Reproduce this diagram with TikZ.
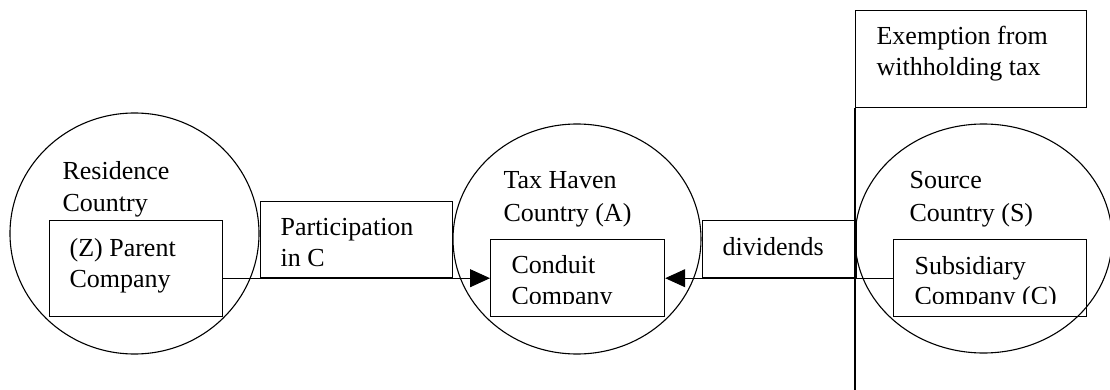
\documentclass[tikz,border=0pt]{standalone}
\usepackage{fontspec}
\setmainfont{Liberation Serif}
\usetikzlibrary{shapes.geometric,arrows.meta}
\begin{document}
\begin{tikzpicture}[x=1pt,y=-1pt,
  line width=1.2pt,
  country/.style={draw,ellipse,inner sep=0pt,line width=1.1pt},
  box/.style={draw,rectangle,inner sep=0pt,anchor=north west},
  lbl/.style={anchor=base west,inner sep=0pt,font=\fontsize{26}{31}\selectfont},
  arr/.style={-{Triangle[length=20pt,width=18pt]},line width=1pt}]
\useasboundingbox (0,0) rectangle (1110,390);
% countries
\node[country,minimum width=249pt,minimum height=241pt] (res) at (134.5,233.5) {};
\node[country,minimum width=248pt,minimum height=230pt] (hav) at (577,239) {};
\node[country,minimum width=257pt,minimum height=229pt] (src) at (983.5,238.5) {};
% boxes
\node[box,minimum width=173pt,minimum height=96pt] (par) at (49,220) {};
\node[box,minimum width=192pt,minimum height=76pt] (part) at (260,201) {};
\node[box,minimum width=174pt,minimum height=77pt] (cond) at (490,239) {};
\node[box,minimum width=154pt,minimum height=57pt] (div) at (702,220) {};
\node[box,minimum width=231pt,minimum height=97pt] (exe) at (855,10) {};
\node[box,minimum width=193pt,minimum height=77pt] (sub) at (893,239) {};
\coordinate (vbot) at (855,390);
\draw (exe.south west) -- (vbot);
% texts
\node[lbl] (t1) at (62,180) {Residence};
\node[lbl] (t2) at (62,211.5) {Country};
\node[lbl] (t3) at (69,256) {(Z) Parent};
\node[lbl] (t4) at (69,287) {Company};
\node[lbl] (t5) at (280,235) {Participation};
\node[lbl] (t6) at (280,266) {in C};
\node[lbl] (t7) at (503,189) {Tax Haven};
\node[lbl] (t8) at (503,221) {Country (A)};
\node[lbl] (t9) at (511,273) {Conduit};
\begin{scope}
\clip (490,239) rectangle (664,303.5);
\node[lbl] (t10) at (511,304) {Company};
\end{scope}
\node[lbl] (t11) at (722,255) {dividends};
\node[lbl] (t12) at (876,45) {Exemption from};
\node[lbl] (t13) at (876,76) {withholding tax};
\node[lbl] (t14) at (909,189) {Source};
\node[lbl] (t15) at (909,221) {Country (S)};
\node[lbl] (t16) at (914,274) {Subsidiary};
\begin{scope}
\clip (893,239) rectangle (1086,303.5);
\node[lbl] (t17) at (914,304) {Company (C)};
\end{scope}
% connectors
\draw[arr] (par.east |- part.south) -- (cond.west |- part.south);
\draw[arr] (sub.west |- div.south) -- (cond.east |- div.south);
\end{tikzpicture}
\end{document}
